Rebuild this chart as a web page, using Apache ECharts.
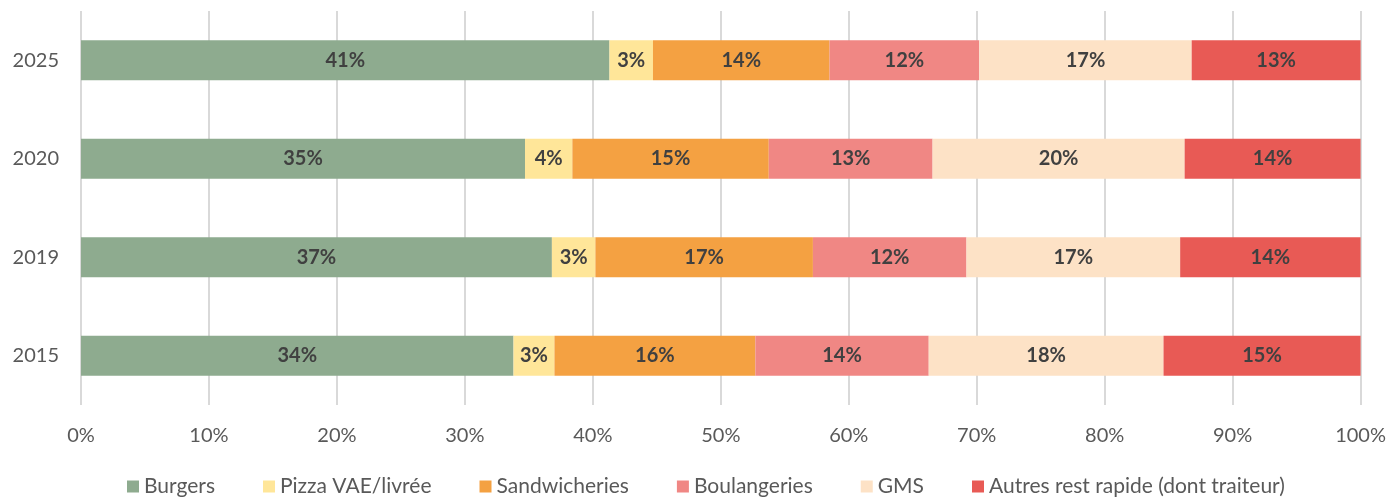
<!DOCTYPE html>
<html>
<head>
<meta charset="utf-8">
<script src="https://cdn.jsdelivr.net/npm/echarts@6/dist/echarts.min.js"></script>
<style>
  html, body { margin: 0; padding: 0; background: #fff; }
  #chart { width: 1389px; height: 499px; }
</style>
</head>
<body>
<div id="chart"></div>
<script>
// années (de bas en haut)
const years = ['2015', '2019', '2020', '2025'];

const seriesNames = ['Burgers', 'Pizza VAE/livrée', 'Sandwicheries', 'Boulangeries', 'GMS', 'Autres rest rapide (dont traiteur)'];
const colors = ['#8EAB8F', '#FFE699', '#F4A142', '#F08784', '#FDE2C6', '#E85A55'];

// parts en % (2015, 2019, 2020, 2025)
const burgers = [33.8, 36.8, 34.7, 41.3];
const pizza = [3.2, 3.4, 3.7, 3.4];
const sandwicheries = [15.7, 17.0, 15.35, 13.8];
const boulangeries = [13.55, 12.0, 12.8, 11.7];
const gms = [18.35, 16.7, 19.7, 16.6];
const autres = [15.4, 14.1, 13.75, 13.2];

const xTicks = [0, 10, 20, 30, 40, 50, 60, 70, 80, 90, 100];

const allData = [burgers, pizza, sandwicheries, boulangeries, gms, autres];
const FONT = 'Lato, "Open Sans", sans-serif';

const chart = echarts.init(document.getElementById('chart'));

const option = {
  animation: false,
  textStyle: { fontFamily: FONT },
  grid: { left: 81, right: 28, top: 11, bottom: 94, containLabel: false },
  legend: {
    top: 476,
    left: 127,
    padding: 0,
    itemWidth: 12,
    itemHeight: 12,
    itemGap: 48,
    icon: 'rect',
    textStyle: { color: '#595959', fontSize: 21, fontFamily: FONT },
    data: seriesNames
  },
  xAxis: {
    type: 'value',
    min: xTicks[0],
    max: xTicks[xTicks.length - 1],
    interval: 10,
    axisLine: { show: false },
    axisTick: { show: false },
    axisLabel: { color: '#595959', fontSize: 20, margin: 21, formatter: '{value}%' },
    splitLine: { show: true, lineStyle: { color: '#D9D9D9', width: 2 } }
  },
  yAxis: {
    type: 'category',
    data: years,
    axisLine: { show: false },
    axisTick: { show: false },
    axisLabel: { color: '#595959', fontSize: 20, margin: 22 }
  },
  series: seriesNames.map((name, i) => ({
    name: name,
    type: 'bar',
    stack: 'total',
    barWidth: 40,
    itemStyle: { color: colors[i] },
    label: {
      show: true,
      position: 'inside',
      color: '#404040',
      fontWeight: 'bold',
      fontSize: 20,
      fontFamily: FONT,
      formatter: p => Math.round(p.value) + '%'
    },
    data: allData[i]
  }))
};

chart.setOption(option);
</script>
</body>
</html>
